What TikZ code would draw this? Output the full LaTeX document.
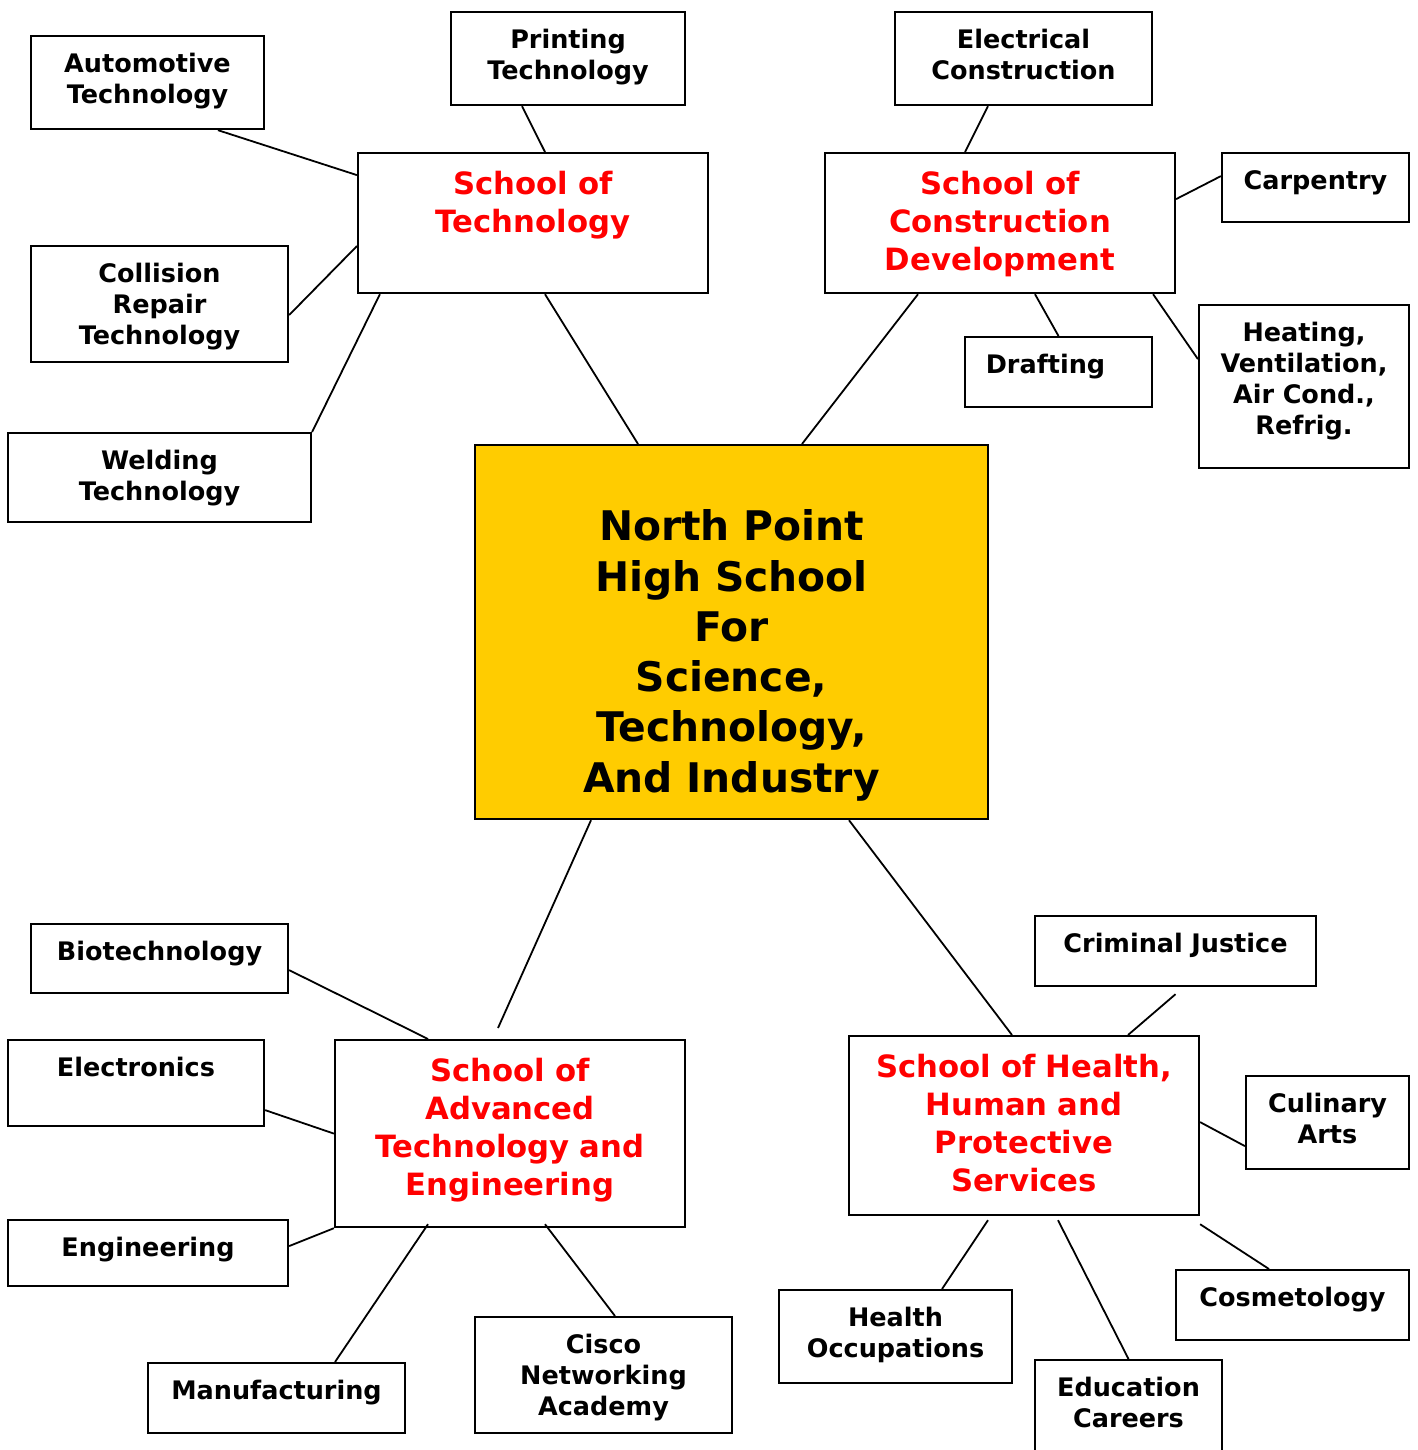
\documentclass[tikz,border=0pt]{standalone}
\usepackage{fontspec}
\setmainfont{DejaVu Sans}
\usepackage{tikz}
\usetikzlibrary{positioning}
\definecolor{hubgold}{HTML}{FFCC00}
\definecolor{schoolred}{HTML}{FF0000}

\tikzset{
  box/.style={draw=black, line width=2.2pt, fill=white, align=center, inner sep=0pt, anchor=north},
  course/.style={box, text height=36.5pt, font=\fontsize{25.5}{31}\selectfont\bfseries},
  school/.style={box, text height=41.5pt, text=schoolred, font=\fontsize{30.7}{38}\selectfont\bfseries},
  hub/.style={box, text height=95.6pt, fill=hubgold, font=\fontsize{40.8}{50.3}\selectfont\bfseries},
  link/.style={draw=black, line width=1.8pt}
}

\begin{document}
\begin{tikzpicture}[x=1pt, y=-1pt]
        \useasboundingbox (0,0) rectangle (1417,1450);

        % NODES
        % -----------------

        % centre
        \node[hub, text width=513pt, text depth=278.4pt] (npt) at (731.5,444)
          {North Point\\High School\\For\\Science,\\Technology,\\And Industry};

        % schools
        \node[school, text width=350pt, text depth=98.5pt] (tech) at (533,152)
          {School of\\Technology};
        \node[school, text width=350pt, text depth=98.5pt] (constr) at (1000,152)
          {School of\\Construction\\Development};
        \node[school, text width=350pt, text depth=145.5pt] (adv) at (510,1039)
          {School of\\Advanced\\Technology and\\Engineering};
        \node[school, text width=350pt, text depth=137.5pt] (health) at (1024,1035)
          {School of Health,\\Human and\\Protective\\Services};

        % technology courses
        \node[course, text width=233pt, text depth=56.5pt] (auto) at (147.5,35) {Automotive\\Technology};
        \node[course, text width=234pt, text depth=56.5pt] (print) at (568,11) {Printing\\Technology};
        \node[course, text width=257pt, text depth=79.5pt] (coll) at (159.5,245) {Collision\\Repair\\Technology};
        \node[course, text width=303pt, text depth=52.5pt] (weld) at (159.5,432) {Welding\\Technology};

        % construction courses
        \node[course, text width=257pt, text depth=56.5pt] (elec) at (1023.5,11) {Electrical\\Construction};
        \node[course, text width=187pt, text depth=32.5pt] (carp) at (1315.5,152) {Carpentry};
        \node[course, text width=187pt, text depth=33.5pt] (draft) at (1058.5,336) {Drafting\hspace{26pt}\mbox{}};
        \node[course, text width=210pt, text depth=126.5pt] (hvac) at (1304,304) {Heating,\\Ventilation,\\Air Cond.,\\Refrig.};

        % engineering courses
        \node[course, text width=257pt, text depth=32.5pt] (bio) at (159.5,923) {Biotechnology};
        \node[course, text width=256pt, text depth=49.5pt] (elecs) at (136,1039) {Electronics};
        \node[course, text width=280pt, text depth=29.5pt] (engr) at (148,1219) {Engineering};
        \node[course, text width=257pt, text depth=33.5pt] (manuf) at (276.5,1362) {Manufacturing};
        \node[course, text width=257pt, text depth=79.5pt] (cisco) at (603.5,1316) {Cisco\\Networking\\Academy};

        % health courses
        \node[course, text width=281pt, text depth=33.5pt] (crim) at (1175.5,915) {Criminal Justice};
        \node[course, text width=163pt, text depth=56.5pt] (culin) at (1327.5,1075) {Culinary\\Arts};
        \node[course, text width=233pt, text depth=56.5pt] (hocc) at (895.5,1289) {Health\\Occupations};
        \node[course, text width=233pt, text depth=33.5pt] (cosm) at (1292.5,1269) {Cosmetology};
        \node[course, text width=187pt, text depth=63.5pt] (educ) at (1128.5,1359) {Education\\Careers};

        % EDGES
        % -----------------
        \draw[link] ([xshift=70.5pt]auto.south) -- ([yshift=48pt]tech.west);
        \draw[link] ([xshift=-46pt]print.south) -- ([xshift=12pt]tech.north);
        \draw[link] ([yshift=-11pt]coll.east) -- ([yshift=-23pt]tech.west);
        \draw[link] (weld.north east) -- ([xshift=23pt]tech.south west);
        \draw[link] ([xshift=12pt]tech.south) -- ([xshift=-93.5pt]npt.north);

        \draw[link] ([xshift=-35.5pt]elec.south) -- ([xshift=-35pt]constr.north);
        \draw[link] ([yshift=24pt]constr.east) -- ([yshift=11.5pt]carp.west);
        \draw[link] ([xshift=35pt]constr.south) -- (draft.north);
        \draw[link] ([xshift=-23pt]constr.south east) -- ([yshift=27.5pt]hvac.west);
        \draw[link] ([xshift=-82pt]constr.south) -- ([xshift=70.5pt]npt.north);

        \draw[link] ([xshift=-140.5pt]npt.south) -- ([xshift=-12pt, yshift=11pt]adv.north);
        \draw[link] ([yshift=-11.5pt]bio.east) -- ([xshift=-82pt]adv.north);
        \draw[link] ([yshift=-27pt]elecs.east) -- (adv.west);
        \draw[link] ([yshift=7pt]engr.east) -- (adv.south west);
        \draw[link] ([xshift=58.5pt]manuf.north) -- ([xshift=-82pt, yshift=4pt]adv.south);
        \draw[link] ([xshift=11.5pt]cisco.north) -- ([xshift=35pt, yshift=4pt]adv.south);

        \draw[link] ([xshift=117.5pt]npt.south) -- ([xshift=-12pt]health.north);
        \draw[link] ([yshift=-7pt]crim.south) -- ([xshift=104pt]health.north);
        \draw[link] ([yshift=3.5pt]health.east) -- ([yshift=-23.5pt]culin.west);
        \draw[link] ([xshift=-36pt, yshift=-4pt]health.south) -- ([xshift=46.5pt]hocc.north);
        \draw[link] ([yshift=-8pt]health.south east) -- ([xshift=-23.5pt]cosm.north);
        \draw[link] ([xshift=34pt, yshift=-4pt]health.south) -- (educ.north);

\end{tikzpicture}
\end{document}
